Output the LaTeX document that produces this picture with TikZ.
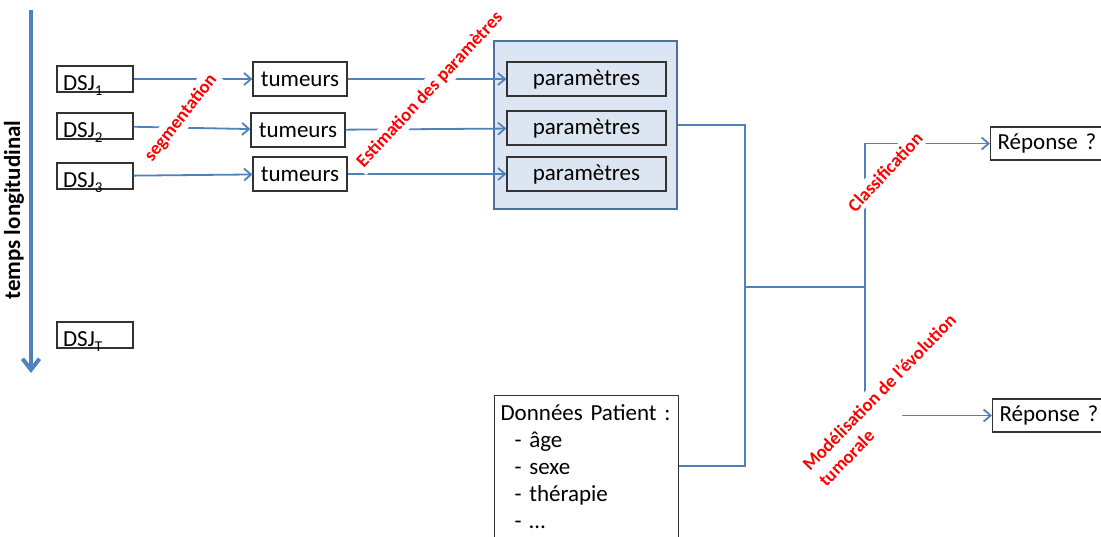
\documentclass[tikz,border=0pt]{standalone}
\usepackage{fontspec}
\setmainfont{Carlito}
\usetikzlibrary{arrows.meta}
\definecolor{linkblue}{HTML}{4F81BD}
\definecolor{panelfill}{HTML}{DCE6F2}
\definecolor{paneledge}{HTML}{4F6F9F}
\newcommand{\dsj}[1]{DSJ\raisebox{-0.5ex}{\fontsize{15}{15}\selectfont #1}}

\begin{document}
\begin{tikzpicture}[x=1pt,y=-1pt,
 font=\fontsize{23}{27}\selectfont,
 box/.style={draw=black!80,line width=1.2pt,align=center,minimum height=34pt,inner sep=0pt},
 dsjbox/.style={box,align=left,text width=64pt,inner xsep=6pt,inner ysep=0pt,minimum height=0pt,text height=24pt,text depth=2pt},
 tumbox/.style={box,minimum width=94pt},
 parbox/.style={box,fill=panelfill,minimum width=159pt},
 panel/.style={draw=paneledge,line width=1.8pt,fill=panelfill,minimum width=183pt,minimum height=168pt},
 answer/.style={box,anchor=west,minimum height=33pt,text width=110pt,align=left,inner xsep=7pt},
 patient/.style={draw=black!80,line width=1.2pt,anchor=north west,align=left,text width=172pt,inner xsep=6pt,inner ysep=0pt,minimum height=142pt},
 tag/.style={font=\fontsize{18.5}{22.6}\selectfont\bfseries,text=red,fill=white,inner sep=3.5pt},
 link/.style={linkblue,line width=1.8pt},
 flow/.style={link,-{Straight Barb[length=7pt,width=12pt]}},
 axis/.style={linkblue,line width=4pt,-{Straight Barb[length=11pt,width=17pt]}}]
\useasboundingbox (0,0) rectangle (1101,536);
\coordinate (axtop) at (31,10);
\coordinate (axbot) at (31,373);
\node[font=\fontsize{23}{27}\selectfont\bfseries,rotate=90] (timelabel) at (14,210) {temps longitudinal};
\node[dsjbox] (dsj1) at (95,79) {\dsj{1}};
\node[dsjbox] (dsj2) at (95,126) {\dsj{2}};
\node[dsjbox] (dsj3) at (95,176) {\dsj{3}};
\node[dsjbox] (dsjT) at (95,335) {\dsj{T}};
\node[tumbox] (tum1) at (300,79) {tumeurs};
\node[tumbox] (tum2) at (298,130) {tumeurs};
\node[tumbox] (tum3) at (300,174) {tumeurs};
\node[panel] (panel) at (585.5,125) {};
\node[parbox] (par1) at (586.5,79) {paramètres};
\node[parbox] (par2) at (586.5,128) {paramètres};
\node[parbox] (par3) at (586.5,174) {paramètres};
\node[patient] (data) at (494,395) {Données Patient :\\\hspace*{14pt}- âge\\\hspace*{14pt}- sexe\\\hspace*{14pt}- thérapie\\\hspace*{14pt}- …};
\node[answer] (ans1) at (990,143.5) {Réponse ?};
\node[answer] (ans2) at (992,415.5) {Réponse ?};
\coordinate (split) at (745,287);
\coordinate (fork) at (865,287);
\draw[axis] (axtop)--(axbot);
\draw[flow] (dsj1)--(tum1);
\draw[flow] (dsj2)--(tum2);
\draw[flow] (dsj3)--(tum3);
\draw[flow] (tum1)--(par1);
\draw[flow] (tum2)--(par2);
\draw[flow] (tum3)--(par3);
\draw[link] (panel.east)-|(split);
\draw[link] (split)|-([yshift=1pt]data.east);
\draw[link] (split)--(fork);
\draw[flow] (fork)|-(ans1);
\draw[flow] (fork)|-(ans2);
\node[tag,rotate=52] (seg) at (181,118) {segmentation};
\node[tag,rotate=47] (est) at (430,90) {Estimation des paramètres};
\node[tag,rotate=47] (cls) at (885,172) {Classification};
\node[tag,rotate=45.6,align=left] (evo) at (887,400) {Modélisation de l’évolution\\tumorale};
\end{tikzpicture}
\end{document}
